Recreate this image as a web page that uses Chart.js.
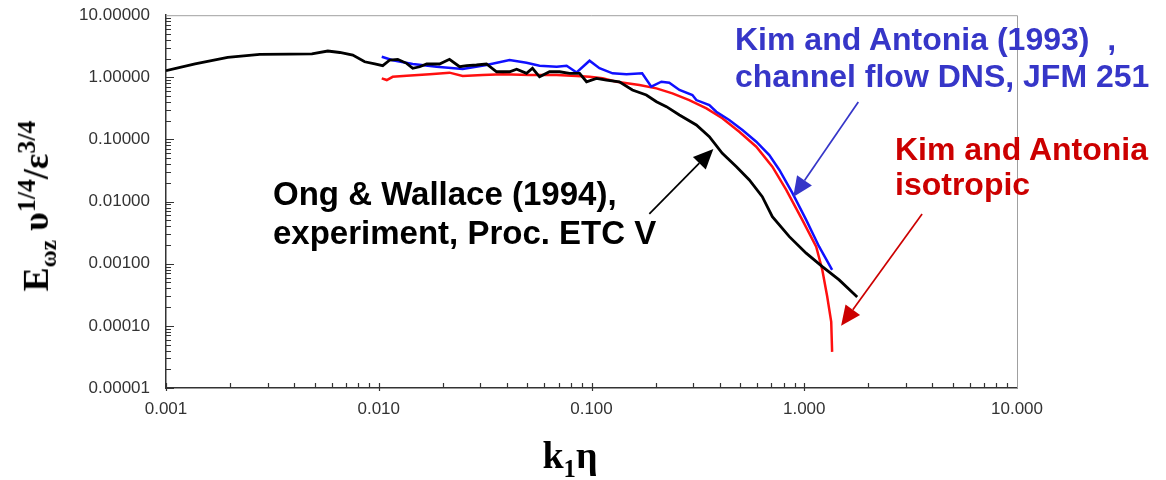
<!DOCTYPE html>
<html lang="en">
  <head>
    <meta charset="UTF-8" />
    <title>Vorticity spectrum</title>
    <script src="https://cdn.jsdelivr.net/npm/chart.js"></script>
    <style>
      html, body { margin: 0; padding: 0; background: #fff; overflow: hidden; }
      #wrap { position: relative; width: 1166px; height: 480px; overflow: hidden; }
      #box { position: absolute; left: 0; top: -3px; width: 1166px; height: 483px; }
      .note { position: absolute; font: bold 32px "Liberation Sans", Arial, sans-serif; white-space: nowrap; }
      .title { position: absolute; font-family: "Liberation Serif", "Times New Roman", serif; font-weight: bold; white-space: nowrap; color: #000; }
      .title sub { font-size: 65%; }
      .title sup { font-size: 72%; }
    </style>
  </head>
  <body>
    <div id="wrap">
      <div id="box"><canvas id="chart-spektrum"></canvas></div>

      <div class="title" id="ytitle" style="font-size: 36px; left: 37px; top: 206px; transform: translate(-50%, -50%) rotate(-90deg);">
        E<sub>ωz</sub> υ<sup>1/4</sup>/ε<sup>3/4</sup>
      </div>
      <div class="title" style="font-size: 38px; left: 570px; top: 458px; transform: translate(-50%, -50%);">
        k<sub>1</sub>η
      </div>

      <div class="note" style="left: 735px; top: 21px; line-height: 37px; color: #3636c8;">
        Kim and Antonia (1993)&nbsp;&nbsp;,<br />channel flow DNS, JFM 251
      </div>
      <div class="note" style="left: 895px; top: 132px; line-height: 35px; color: #cc0000;">
        Kim and Antonia<br />isotropic
      </div>
      <div class="note" style="left: 273px; top: 174px; line-height: 39px; color: #000; font-size: 33px;">
        Ong &amp; Wallace (1994),<br />experiment, Proc. ETC V
      </div>
    </div>

    <script>
      // data (k1*eta, E)
      const kOng = [0.001, 0.00137, 0.00195, 0.00276, 0.00382, 0.00485, 0.00576, 0.00656, 0.00755, 0.00859,
        0.00958, 0.01044, 0.01127, 0.01228, 0.01353, 0.01445, 0.01557, 0.0168, 0.0193, 0.0215,
        0.024, 0.0259, 0.0288, 0.0321, 0.0358, 0.0412, 0.0445, 0.0495, 0.0528, 0.057,
        0.0635, 0.0708, 0.0789, 0.0879, 0.0948, 0.1055, 0.1175, 0.1352, 0.1557, 0.181,
        0.202, 0.225, 0.259, 0.311, 0.358, 0.412, 0.48, 0.552, 0.635, 0.708,
        0.851, 1.021, 1.216, 1.459, 1.774];
      const eOng = [1.28, 1.64, 2.1, 2.34, 2.37, 2.39, 2.65, 2.51, 2.28, 1.78,
        1.64, 1.54, 1.9, 1.95, 1.68, 1.4, 1.48, 1.64, 1.64, 1.95,
        1.48, 1.54, 1.58, 1.64, 1.23, 1.23, 1.35, 1.16, 1.4, 1.02,
        1.23, 1.23, 1.16, 1.16, 0.849, 0.964, 0.905, 0.849, 0.625, 0.519,
        0.405, 0.337, 0.248, 0.171, 0.111, 0.06, 0.0365, 0.0223, 0.012, 0.00573,
        0.00273, 0.00148, 0.000898, 0.000549, 0.000292];

      const kChannel = [0.01033, 0.01163, 0.01445, 0.0187, 0.0248, 0.0321, 0.0412, 0.0495, 0.057, 0.0686,
        0.0764, 0.0851, 0.0979, 0.109, 0.1256, 0.146, 0.173, 0.191, 0.213, 0.232,
        0.259, 0.298, 0.311, 0.358, 0.386, 0.444, 0.512, 0.595, 0.685, 0.764,
        0.879, 1.021, 1.175, 1.352];
      const eChannel = [2.14, 1.88, 1.64, 1.48, 1.36, 1.58, 1.9, 1.72, 1.54, 1.48,
        1.54, 1.2, 1.85, 1.4, 1.16, 1.12, 1.16, 0.706, 0.849, 0.819,
        0.625, 0.519, 0.431, 0.358, 0.28, 0.206, 0.142, 0.0921, 0.0562, 0.0323,
        0.0138, 0.00507, 0.00188, 0.000795];

      const kIso = [0.01033, 0.01091, 0.01163, 0.01353, 0.01735, 0.0215, 0.0248, 0.0308, 0.0382, 0.0512,
        0.0686, 0.0851, 0.0979, 0.1127, 0.131, 0.168, 0.202, 0.24, 0.288, 0.347,
        0.412, 0.495, 0.595, 0.708, 0.823, 0.979, 1.138, 1.216, 1.282, 1.339, 1.352];
      const eIso = [0.964, 0.905, 1.02, 1.06, 1.12, 1.19, 1.05, 1.09, 1.12, 1.09,
        1.09, 1.05, 1.02, 0.964, 0.849, 0.752, 0.665, 0.553, 0.431, 0.317,
        0.219, 0.133, 0.0765, 0.0365, 0.0154, 0.00507, 0.00188, 0.000795, 0.000296, 0.000116, 0.0000381];

      const xTicks = [0.001, 0.01, 0.1, 1, 10];
      const yTicks = [0.00001, 0.0001, 0.001, 0.01, 0.1, 1, 10];

      // panah keterangan: [k ekor, E ekor, k ujung, E ujung, warna]
      const arrows = [
        [0.187, 0.00633, 0.374, 0.0703, "#000000"],
        [1.795, 0.401, 0.887, 0.0119, "#3636c8"],
        [3.58, 0.00633, 1.49, 0.0001, "#cc0000"],
      ];

      const toPoints = (ks, es) => ks.map((k, i) => ({ x: k, y: es[i] }));

      function drawArrow(ctx, x1, y1, x2, y2, color) {
        const ang = Math.atan2(y2 - y1, x2 - x1);
        const len = 20, half = 9;
        const bx = x2 - len * Math.cos(ang), by = y2 - len * Math.sin(ang);
        ctx.strokeStyle = color;
        ctx.fillStyle = color;
        ctx.lineWidth = 1.7;
        ctx.beginPath();
        ctx.moveTo(x1, y1);
        ctx.lineTo(bx, by);
        ctx.stroke();
        ctx.beginPath();
        ctx.moveTo(x2, y2);
        ctx.lineTo(bx + half * Math.sin(ang), by - half * Math.cos(ang));
        ctx.lineTo(bx - half * Math.sin(ang), by + half * Math.cos(ang));
        ctx.closePath();
        ctx.fill();
      }

      const framePlugin = {
        id: "frame",
        afterDraw(chart) {
          const { ctx, chartArea: a, scales } = chart;
          const xs = scales.x, ys = scales.y;
          ctx.save();
          // garis atas dan kanan
          ctx.strokeStyle = "#a0a0a0";
          ctx.lineWidth = 1;
          ctx.beginPath();
          ctx.moveTo(a.left, a.top + 0.5);
          ctx.lineTo(a.right + 0.5, a.top + 0.5);
          ctx.lineTo(a.right + 0.5, a.bottom);
          ctx.stroke();

          // tick kecil ke dalam
          ctx.strokeStyle = "#333";
          ctx.lineWidth = 1.2;
          ctx.beginPath();
          for (let d = -5; d < 1; d++) {
            for (let m = 1; m <= 9; m++) {
              const py = Math.round(ys.getPixelForValue(m * Math.pow(10, d))) + 0.5;
              ctx.moveTo(a.left, py);
              ctx.lineTo(a.left + (m === 1 ? 8 : 5), py);
            }
          }
          for (let d = -3; d < 1; d++) {
            for (let m = 1; m <= 9; m++) {
              const px = Math.round(xs.getPixelForValue(m * Math.pow(10, d))) + 0.5;
              ctx.moveTo(px, a.bottom + (m === 1 ? 3 : 0));
              ctx.lineTo(px, a.bottom - 5);
            }
          }
          ctx.stroke();

          arrows.forEach(([k1, e1, k2, e2, c]) => {
            drawArrow(ctx, xs.getPixelForValue(k1), ys.getPixelForValue(e1),
              xs.getPixelForValue(k2), ys.getPixelForValue(e2), c);
          });
          ctx.restore();
        },
      };

      new Chart(document.getElementById("chart-spektrum"), {
        type: "line",
        data: {
          datasets: [
            {
              label: "Ong & Wallace (1994)",
              data: toPoints(kOng, eOng),
              borderColor: "#000000",
              borderWidth: 2.8,
            },
            {
              label: "Kim and Antonia (1993), channel",
              data: toPoints(kChannel, eChannel),
              borderColor: "#1010ff",
              borderWidth: 2.5,
            },
            {
              label: "Kim and Antonia, isotropic",
              data: toPoints(kIso, eIso),
              borderColor: "#ff1010",
              borderWidth: 2.5,
            },
          ],
        },
        options: {
          responsive: true,
          maintainAspectRatio: false,
          animation: false,
          elements: { point: { radius: 0 }, line: { tension: 0 } },
          layout: { padding: { top: 2, right: 149, left: 0, bottom: 0 } },
          plugins: { legend: { display: false }, tooltip: { enabled: false } },
          scales: {
            x: {
              type: "logarithmic",
              min: 0.001,
              max: 10,
              afterBuildTicks: (s) => { s.ticks = xTicks.map((v) => ({ value: v })); },
              afterFit: (s) => { s.height = 92; },
              grid: { display: false },
              border: { color: "#333", width: 1.5 },
              ticks: {
                color: "#333",
                padding: 3,
                maxRotation: 0,
                autoSkip: false,
                font: { family: "Liberation Sans", size: 17 },
                callback: (v) => Number(v).toFixed(3),
              },
            },
            y: {
              type: "logarithmic",
              min: 0.00001,
              max: 10,
              afterBuildTicks: (s) => { s.ticks = yTicks.map((v) => ({ value: v })); },
              afterFit: (s) => { s.width = 166; },
              grid: { display: false },
              border: { color: "#333", width: 1.5 },
              ticks: {
                color: "#333",
                padding: 8,
                autoSkip: false,
                font: { family: "Liberation Sans", size: 17 },
                callback: (v) => Number(v).toFixed(5),
              },
            },
          },
        },
        plugins: [framePlugin],
      });
    </script>
  </body>
</html>
